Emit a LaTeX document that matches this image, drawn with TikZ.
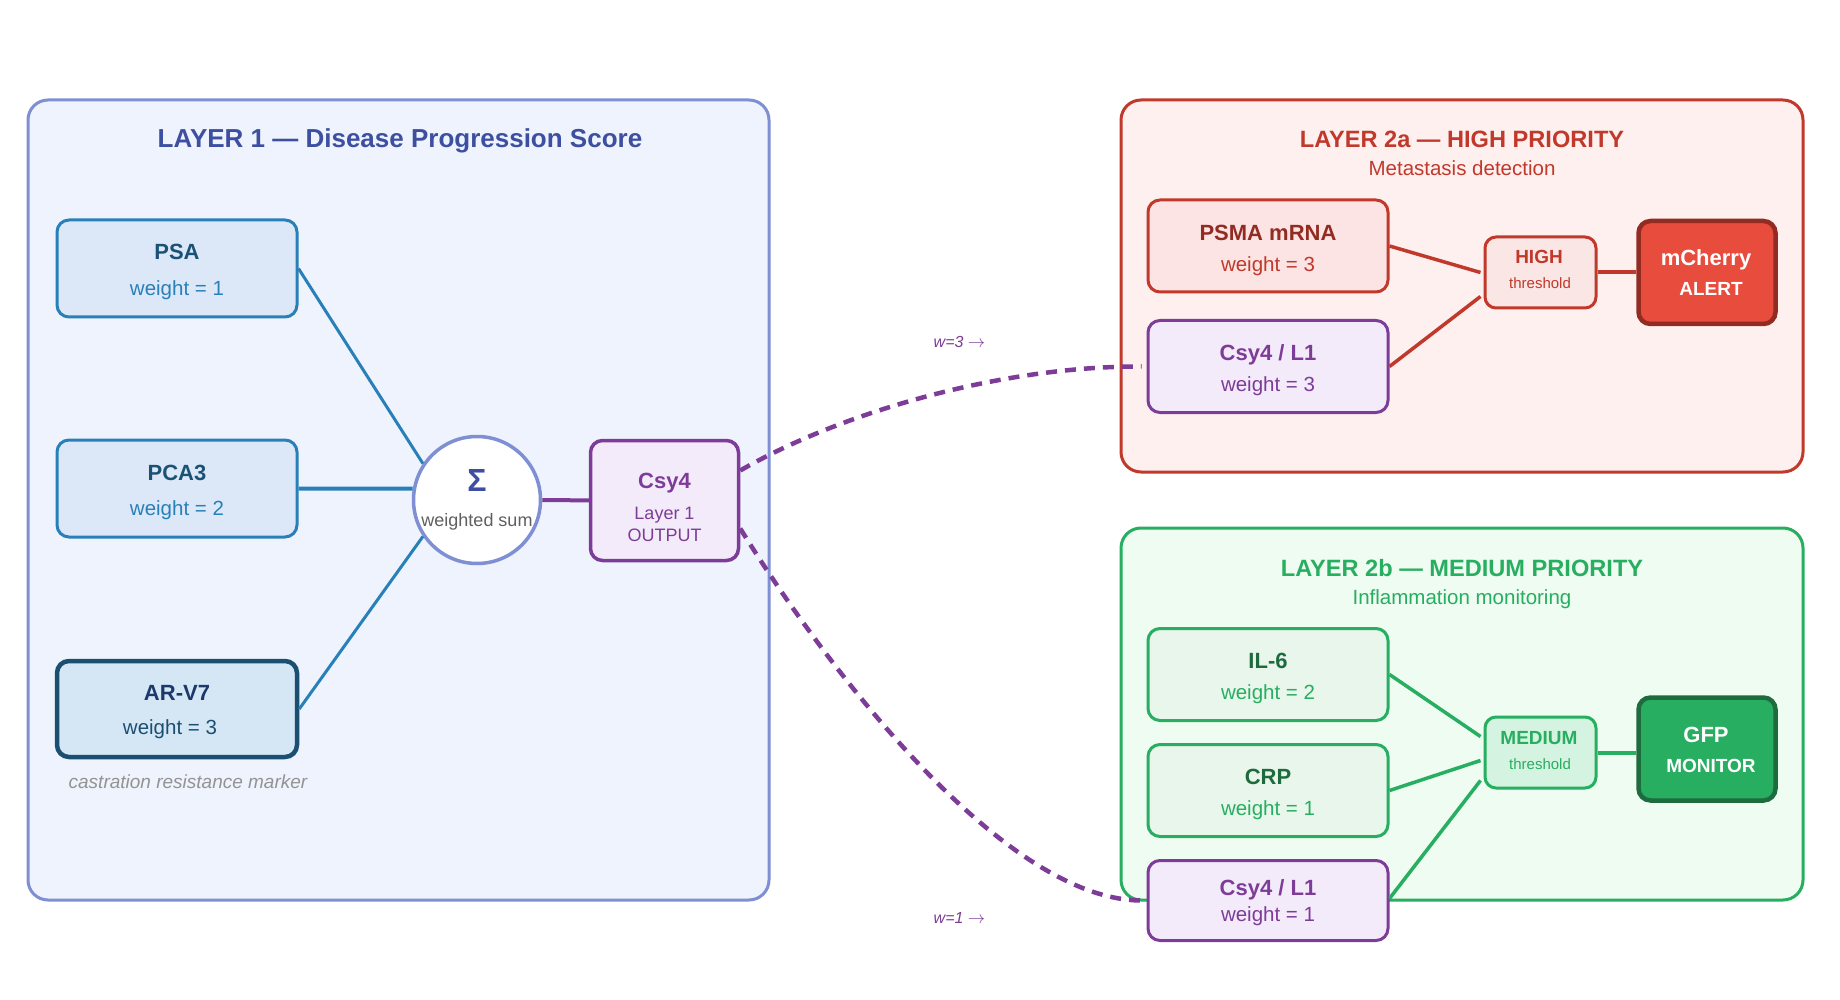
\documentclass[tikz,border=0pt]{standalone}
\usepackage{fontspec}
\setmainfont{Liberation Sans}
\usetikzlibrary{calc}
\newcommand\myfs[1]{\fontsize{#1}{#1}\selectfont}
\definecolor{lonefill}{HTML}{EEF3FD}
\definecolor{loneborder}{HTML}{7F8FD4}
\definecolor{lonetitle}{HTML}{3D4FA0}
\definecolor{bluefill}{HTML}{DCE8F7}
\definecolor{blueline}{HTML}{2980B9}
\definecolor{bluedark}{HTML}{1A5276}
\definecolor{arvfill}{HTML}{D5E7F5}
\definecolor{arvborder}{HTML}{1B4F72}
\definecolor{arvtitle}{HTML}{1B3A6B}
\definecolor{purp}{HTML}{7D3C98}
\definecolor{purpfill}{HTML}{F3EBF9}
\definecolor{redfill}{HTML}{FDF0EF}
\definecolor{redline}{HTML}{C0392B}
\definecolor{reddark}{HTML}{922B21}
\definecolor{psmafill}{HTML}{FBE4E3}
\definecolor{highfill}{HTML}{F9E6E5}
\definecolor{cherry}{HTML}{E74C3C}
\definecolor{greenfill}{HTML}{EEFCF2}
\definecolor{greenline}{HTML}{27AE60}
\definecolor{greendark}{HTML}{1E6B3E}
\definecolor{greenbox}{HTML}{E8F6EC}
\definecolor{medfill}{HTML}{D4F3E0}
\definecolor{graytext}{HTML}{5F5F5F}
\begin{document}
\begin{tikzpicture}[x=1pt,y=-1pt,
  frame/.style={rounded corners=20pt,line width=3pt},
  box/.style={rectangle,rounded corners=12pt,line width=3pt,inner sep=0pt,minimum width=#1},
  box/.default=240pt,
  ttl/.style={anchor=base,font=\bfseries\myfs{22}},
  wgt/.style={anchor=base,font=\myfs{20.5}},
  conn/.style={line width=3pt},
  dashline/.style={line width=4.5pt,purp,dash pattern=on 11pt off 8pt},
]
\useasboundingbox (0,0) rectangle (1840,1000);
\fill[white] (0,0) rectangle (1840,1000);

% ---------- frames ----------
\draw[frame,fill=lonefill,draw=loneborder] (28,100) rectangle (769,900);
\draw[frame,fill=redfill,draw=redline] (1121,100) rectangle (1803,472);
\draw[frame,fill=greenfill,draw=greenline] (1121,528) rectangle (1803,900);

\node[anchor=base,font=\bfseries\myfs{26},text=lonetitle] (t1) at (400,147.5) {LAYER 1 — Disease Progression Score};
\node[anchor=base,font=\bfseries\myfs{23.6},text=redline] (t2a) at (1462,147.5) {LAYER 2a — HIGH PRIORITY};
\node[anchor=base,font=\myfs{20.5},text=redline] (s2a) at (1462,175.5) {Metastasis detection};
\node[anchor=base,font=\bfseries\myfs{23.6},text=greenline] (t2b) at (1462,576.5) {LAYER 2b — MEDIUM PRIORITY};
\node[anchor=base,font=\myfs{20.5},text=greenline] (s2b) at (1462,604) {Inflammation monitoring};

% ---------- layer 1 ----------
\node[box,minimum height=97pt,fill=bluefill,draw=blueline] (psa) at (177,268.5) {};
\node[ttl,text=bluedark] (psat) at (177,260) {PSA};
\node[wgt,text=blueline] (psaw) at (177,295.5) {weight = 1};

\node[box,minimum height=97pt,fill=bluefill,draw=blueline] (pca) at (177,488.5) {};
\node[ttl,text=bluedark] (pcat) at (177,480) {PCA3};
\node[wgt,text=blueline] (pcaw) at (177,515.5) {weight = 2};

\node[box,minimum height=96pt,line width=4.5pt,fill=arvfill,draw=arvborder] (arv) at (177,709) {};
\node[ttl,text=arvtitle] (arvt) at (177,700) {AR-V7};
\node[wgt,text=arvborder] (arvw) at (170,734.5) {weight = 3};
\node[anchor=base,font=\itshape\myfs{19},text=gray!85] (cast) at (188,788) {castration resistance marker};

\node[circle,minimum size=127pt,inner sep=0pt,line width=3.5pt,draw=loneborder,fill=white] (sig) at (477,500) {};
\node[anchor=base,font=\bfseries\myfs{32},text=lonetitle] (sigt) at (477,491) {Σ};
\node[anchor=base,font=\myfs{18},text=graytext] (sigw) at (477,526) {weighted sum};

\node[box=148pt,minimum height=120pt,line width=3.5pt,fill=purpfill,draw=purp] (csy) at (664.5,500.5) {};
\node[ttl,text=purp] (csyt) at (664.5,488) {Csy4};
\node[anchor=base,font=\myfs{18},text=purp] (csya) at (664.5,519) {Layer 1};
\node[anchor=base,font=\myfs{18},text=purp] (csyb) at (664.5,541.5) {OUTPUT};

\draw[conn,blueline] (psa.east) -- (sig.146);
\draw[conn,blueline,line width=4pt] (pca.east) -- (sig.170);
\draw[conn,blueline] (arv.east) -- (sig.214);
\draw[conn,purp,line width=4pt] (sig) -- (csy);

% ---------- layer 2a ----------
\node[box,minimum height=92pt,fill=psmafill,draw=redline] (psma) at (1268,246) {};
\node[ttl,text=reddark] (psmat) at (1268,241) {PSMA mRNA};
\node[wgt,text=redline] (psmaw) at (1268,271.5) {weight = 3};

\node[box,minimum height=92pt,fill=purpfill,draw=purp] (cup) at (1268,366.5) {};
\node[ttl,text=purp] (cupt) at (1268,361) {Csy4 / L1};
\node[wgt,text=purp] (cupw) at (1268,391.5) {weight = 3};

\node[box=111pt,minimum height=71pt,rounded corners=11pt,fill=highfill,draw=redline] (hi) at (1540.5,272.5) {};
\node[anchor=base,font=\bfseries\myfs{19},text=redline] (hit) at (1539,264) {HIGH};
\node[anchor=base,font=\myfs{15},text=redline] (hiw) at (1540,289) {threshold};

\node[box=137pt,minimum height=103pt,line width=4.5pt,fill=cherry,draw=reddark] (mch) at (1707,272.5) {};
\node[ttl,text=white] (mcht) at (1706,266) {mCherry};
\node[anchor=base,font=\bfseries\myfs{19},text=white] (mchw) at (1711,296) {ALERT};

\draw[conn,redline,line width=3.5pt] (psma.east) -- ($(hi.west)+(-3,0)$);
\draw[conn,redline,line width=3.5pt] (cup.east) -- ($(hi.west)+(-3,24)$);
\draw[conn,redline,line width=4pt] (hi) -- (mch);

% ---------- layer 2b ----------
\node[box,minimum height=92pt,fill=greenbox,draw=greenline] (il) at (1268,674.5) {};
\node[ttl,text=greendark] (ilt) at (1268,668) {IL-6};
\node[wgt,text=greenline] (ilw) at (1268,699.5) {weight = 2};

\node[box,minimum height=92pt,fill=greenbox,draw=greenline] (crp) at (1268,790.5) {};
\node[ttl,text=greendark] (crpt) at (1268,784) {CRP};
\node[wgt,text=greenline] (crpw) at (1268,815.5) {weight = 1};

\node[box,minimum height=80pt,fill=purpfill,draw=purp] (clo) at (1268,900.5) {};
\node[ttl,text=purp] (clot) at (1268,895) {Csy4 / L1};
\node[wgt,text=purp] (clow) at (1268,921.5) {weight = 1};

\node[box=111pt,minimum height=71pt,rounded corners=11pt,fill=medfill,draw=greenline] (med) at (1540.5,752.5) {};
\node[anchor=base,font=\bfseries\myfs{19},text=greenline] (medt) at (1539,744) {MEDIUM};
\node[anchor=base,font=\myfs{15},text=greenline] (medw) at (1540,769) {threshold};

\node[box=137pt,minimum height=103pt,line width=4.5pt,fill=greenline,draw=greendark] (gfp) at (1707,749) {};
\node[ttl,text=white] (gfpt) at (1706,742) {GFP};
\node[anchor=base,font=\bfseries\myfs{19},text=white] (gfpw) at (1711,772) {MONITOR};

\draw[conn,greenline,line width=3.5pt] (il.east) -- ($(med.west)+(-3,-16)$);
\draw[conn,greenline,line width=3.5pt] (crp.east) -- ($(med.west)+(-3,8)$);
\draw[conn,greenline,line width=3.5pt] ($(clo.east)+(0,-2)$) -- ($(med.west)+(-3,28)$);
\draw[conn,greenline,line width=4pt] (med.east) -- (med.east -| gfp.west);

% ---------- cross-layer dashed connectors ----------
\draw[dashline] ($(csy.east)+(0,-30)$) .. controls (840,413) and (1000,366) .. ($(cup.west)+(-5,0)$);
\draw[dashline] ($(csy.east)+(0,28)$) .. controls (820,658) and (1000,900) .. ($(clo.west)+(-5,0)$);
\node[anchor=base,font=\itshape\myfs{16},text=purp] (w3) at (959.5,348) {w=3 {\upshape\myfs{17}$\rightarrow$}};
\node[anchor=base,font=\itshape\myfs{16},text=purp] (w1) at (959.5,923) {w=1 {\upshape\myfs{17}$\rightarrow$}};
\end{tikzpicture}
\end{document}
